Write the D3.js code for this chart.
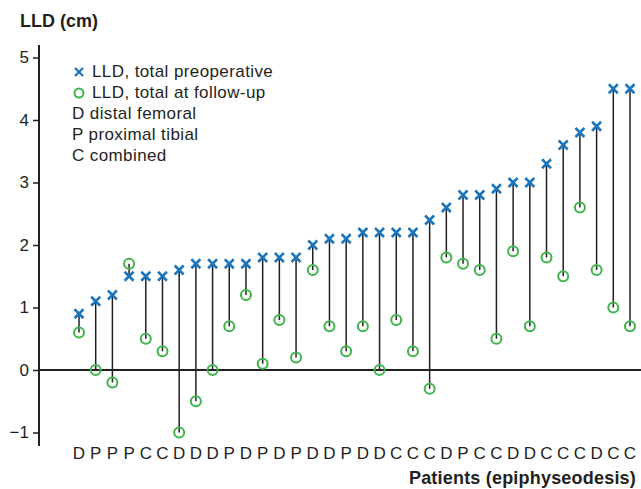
<!DOCTYPE html>
<html><head><meta charset="utf-8">
<script src="https://cdn.jsdelivr.net/npm/d3@7"></script>
<style>body{margin:0;background:#fff}svg{display:block}text{font-family:"Liberation Sans",Arial,sans-serif;fill:#231f20}</style>
</head><body>
<svg id="c" width="641" height="489"></svg>
<script>
const procedures = ["D","P","P","P","C","C","D","D","D","P","D","P","D","P","D","D","P","D","D","C","C","C","D","P","C","C","D","D","C","C","C","D","C","C"];
const preop = [0.9,1.1,1.2,1.5,1.5,1.5,1.6,1.7,1.7,1.7,1.7,1.8,1.8,1.8,2.0,2.1,2.1,2.2,2.2,2.2,2.2,2.4,2.6,2.8,2.8,2.9,3.0,3.0,3.3,3.6,3.8,3.9,4.5,4.5];
const followup = [0.6,0.0,-0.2,1.7,0.5,0.3,-1.0,-0.5,0.0,0.7,1.2,0.1,0.8,0.2,1.6,0.7,0.3,0.7,0.0,0.8,0.3,-0.3,1.8,1.7,1.6,0.5,1.9,0.7,1.8,1.5,2.6,1.6,1.0,0.7];
const yTicks = [-1,0,1,2,3,4,5];
const legendItems = ["LLD, total preoperative","LLD, total at follow-up","D distal femoral","P proximal tibial","C combined"];

const svg = d3.select("#c");
const idx = d3.range(preop.length);
const x = d3.scalePoint().domain(idx).range([79, 630]);
const y = d3.scaleLinear().domain([0, 5]).range([370, 57.5]);
const blue = "#1b75bc", green = "#3db54a", ink = "#231f20";

// y axis
const yAxis = svg.append("g").attr("transform","translate(39,0)")
  .call(d3.axisLeft(y).tickValues(yTicks).tickSize(6).tickPadding(4).tickFormat(d => d < 0 ? "\u2212" + Math.abs(d) : d));
yAxis.select(".domain").remove();
yAxis.selectAll(".tick line").attr("stroke", ink).attr("stroke-width", 1.5);
yAxis.selectAll(".tick text").style("font-size","17px").attr("fill", ink);
svg.append("line").attr("x1",39).attr("x2",39).attr("y1",45).attr("y2",446).attr("stroke",ink).attr("stroke-width",2);
// zero line
svg.append("line").attr("x1",39).attr("x2",641).attr("y1",y(0)).attr("y2",y(0)).attr("stroke",ink).attr("stroke-width",2);

// stems
svg.append("g").selectAll("line").data(idx).join("line")
  .attr("x1", i => x(i)).attr("x2", i => x(i))
  .attr("y1", i => y(preop[i])).attr("y2", i => y(followup[i]))
  .attr("stroke", ink).attr("stroke-width", 1.5);

// follow-up circles
svg.append("g").selectAll("circle").data(idx).join("circle")
  .attr("cx", i => x(i)).attr("cy", i => y(followup[i])).attr("r", 5)
  .attr("fill","none").attr("stroke", green).attr("stroke-width", 2);

// preop crosses
const cross = (cx, cy, s) => `M${cx-s},${cy-s}L${cx+s},${cy+s}M${cx-s},${cy+s}L${cx+s},${cy-s}`;
svg.append("g").selectAll("path").data(idx).join("path")
  .attr("d", i => cross(x(i), y(preop[i]), 4.5))
  .attr("stroke", blue).attr("stroke-width", 2.5).attr("fill","none");

// procedure letters
svg.append("g").selectAll("text").data(idx).join("text")
  .attr("x", i => x(i)).attr("y", 459).attr("text-anchor","middle")
  .style("font-size","17px").text(i => procedures[i]);

// titles
svg.append("text").attr("x",20).attr("y",27).style("font-size","18px").style("font-weight","bold")
  .text("LLD (cm)");
svg.append("text").attr("x",636).attr("y",484).attr("text-anchor","end").style("font-size","18px").style("font-weight","bold")
  .style("letter-spacing","0.2px").text("Patients (epiphyseodesis)");

// legend
const lg = svg.append("g");
const ly = [77, 98, 119, 140, 161];
lg.append("path").attr("d", cross(79, ly[0]-5, 4)).attr("stroke", blue).attr("stroke-width",2.2).attr("fill","none");
lg.append("circle").attr("cx",79).attr("cy",ly[1]-5).attr("r",4.5).attr("fill","none").attr("stroke",green).attr("stroke-width",2);
legendItems.forEach((t, k) => {
  lg.append("text").attr("x", k < 2 ? 92 : 72).attr("y", ly[k]).style("font-size","17px")
    .style("letter-spacing","0.4px").text(t);
});
</script>
</body></html>
